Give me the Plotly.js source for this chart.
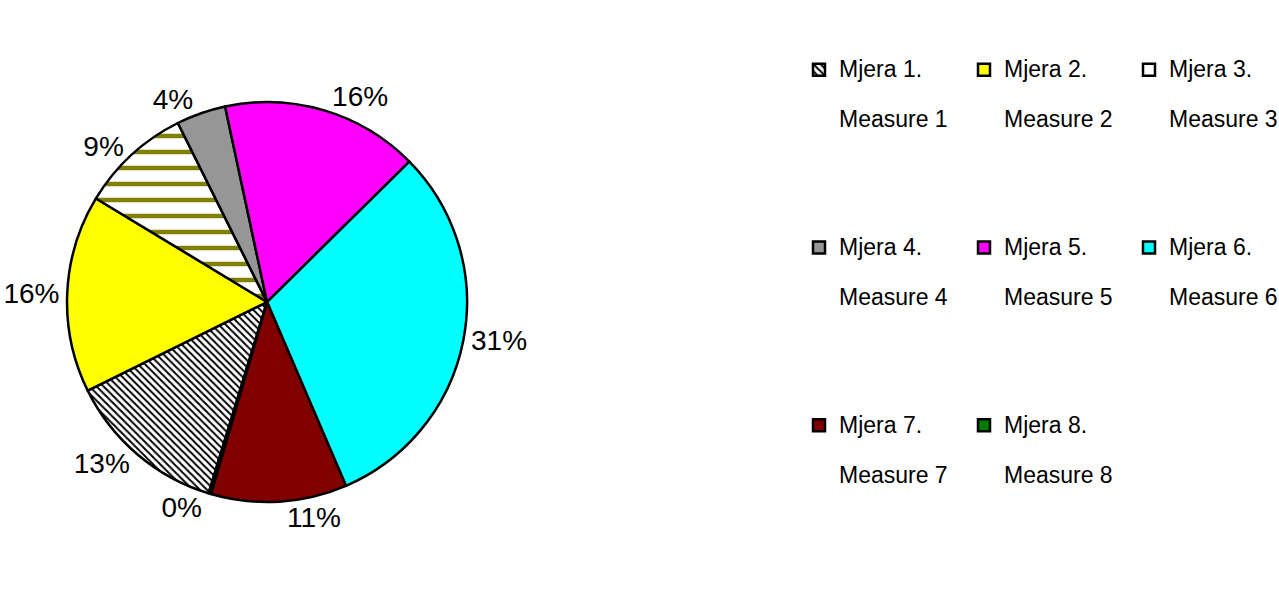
<!DOCTYPE html>
<html>
<head>
<meta charset="utf-8">
<script src="https://cdn.plot.ly/plotly-3.0.1.min.js"></script>
<style>
  html, body { margin: 0; padding: 0; background: #ffffff; }
  #chart { width: 1279px; height: 597px; }
</style>
</head>
<body>
<div id="chart"></div>
<script>
// ---- data ----
var mjeraLabels = ["Mjera 1.", "Mjera 2.", "Mjera 3.", "Mjera 4.", "Mjera 5.", "Mjera 6.", "Mjera 7.", "Mjera 8."];
var measureLabels = ["Measure 1", "Measure 2", "Measure 3", "Measure 4", "Measure 5", "Measure 6", "Measure 7", "Measure 8"];
var shareValues = [13, 16, 9, 4, 16, 31, 11, 0.2];

// ---- styles ----
var sliceColors = ["#ffffff", "#ffff00", "#ffffff", "#969696", "#ff00ff", "#00ffff", "#800000", "#008000"];
var patternShapes = ["\\", "", "-", "", "", "", "", ""];
var patternFg = ["#000000", "#000000", "#808000", "#000000", "#000000", "#000000", "#000000", "#000000"];
var patternSizes = [5, 8, 16, 8, 8, 8, 8, 8];
var patternSolidity = [0.4, 0.3, 0.28, 0.3, 0.3, 0.3, 0.3, 0.3];

var FONT = "'Liberation Sans', Arial, sans-serif";
var big = function (s) { return "<span style='font-size:23px'>" + s + "</span>"; };
var legendText = mjeraLabels.map(function (m, i) {
  return big(m) + "<br><br>" + big(measureLabels[i]) + "<br><br><br><br>";
});

var trace = {
  type: "pie",
  labels: legendText,
  values: shareValues,
  sort: false,
  direction: "clockwise",
  rotation: 197,
  textposition: "outside",
  texttemplate: "%{percent:.0%}",
  outsidetextfont: { family: FONT, size: 28, color: "#000000" },
  textfont: { family: FONT, size: 28, color: "#000000" },
  marker: {
    colors: sliceColors,
    line: { color: "#000000", width: 2.5 },
    pattern: {
      shape: patternShapes,
      fgcolor: patternFg,
      bgcolor: sliceColors,
      fgopacity: 1,
      size: patternSizes,
      solidity: patternSolidity,
      fillmode: "overlay"
    }
  },
  domain: { x: [0.0839, 0.5845], y: [0.1591, 0.8291] },
  hoverinfo: "none",
  automargin: false
};

var layout = {
  width: 1279,
  height: 597,
  margin: { l: 0, r: 480, t: 0, b: 0, autoexpand: false },
  paper_bgcolor: "#ffffff",
  plot_bgcolor: "#ffffff",
  showlegend: true,
  legend: {
    orientation: "h",
    x: 1.0,
    xanchor: "left",
    y: 0.915,
    yanchor: "top",
    valign: "top",
    maxheight: 597,
    entrywidth: 120,
    entrywidthmode: "pixels",
    font: { family: FONT, size: 19.2, color: "#000000" },
    bgcolor: "rgba(0,0,0,0)",
    traceorder: "normal"
  }
};

Plotly.newPlot("chart", [trace], layout, { staticPlot: true, displayModeBar: false });
</script>
</body>
</html>
